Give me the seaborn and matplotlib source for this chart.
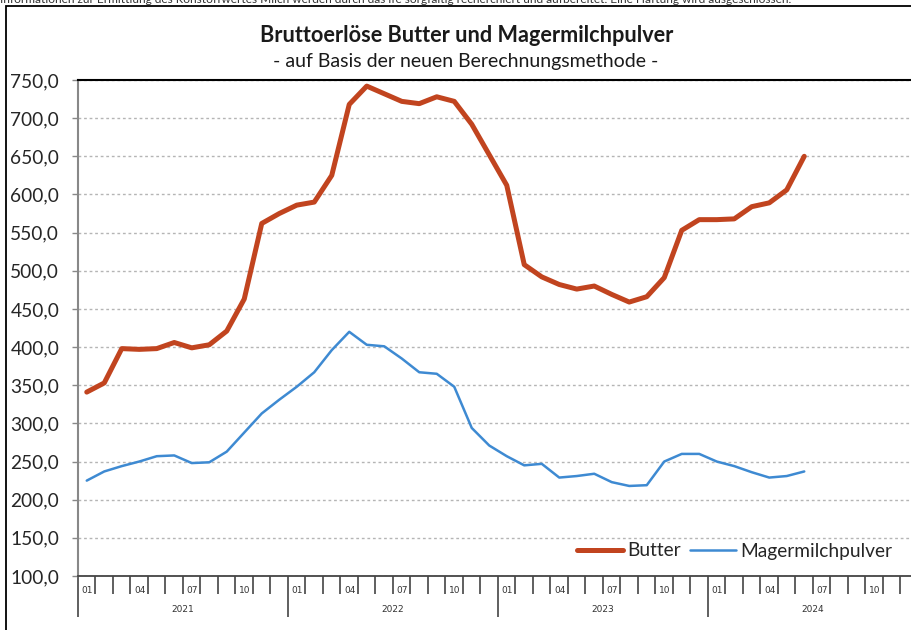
import numpy as np
import pandas as pd
import matplotlib
matplotlib.use("Agg")
import matplotlib.pyplot as plt
from matplotlib.patches import Rectangle
import seaborn as sns

# Monatswerte Jan 2021 - Jun 2024
years = ["2021", "2022", "2023", "2024"]
month_labels = ["01", "04", "07", "10"]
butter = [341, 353, 398, 397, 398, 406, 399, 403, 421, 463, 562, 575,
          586, 590, 625, 718, 742, 732, 722, 719, 728, 722, 692, 652,
          612, 508, 492, 482, 476, 480, 469, 459, 466, 491, 553, 567,
          567, 568, 584, 589, 606, 650]
mmp = [225, 237, 244, 250, 257, 258, 248, 249, 263, 288, 313, 331,
       348, 367, 396, 420, 403, 401, 385, 367, 365, 348, 294, 271,
       257, 245, 247, 229, 231, 234, 223, 218, 219, 250, 260, 260,
       250, 244, 236, 229, 231, 237]
y_ticks = list(range(100, 751, 50))

sns.set_style("white")
plt.rcParams['font.family'] = ['Lato', 'DejaVu Sans']

df = pd.DataFrame({"monat": np.arange(len(butter)), "Butter": butter,
                   "Magermilchpulver": mmp})

W, H = 912, 630
fig = plt.figure(figsize=(W / 100, H / 100), dpi=100)
ax = fig.add_axes([78 / W, 1 - 576 / H, 840 / W, 496 / H])

sns.lineplot(data=df, x="monat", y="Butter", ax=ax, color="#c1441f",
             linewidth=3.6, label="Butter")
sns.lineplot(data=df, x="monat", y="Magermilchpulver", ax=ax, color="#3e8ad2",
             linewidth=1.8, label="Magermilchpulver")

n_months = 12 * len(years)
ax.set_xlim(-0.5, n_months - 0.5)
ax.set_ylim(100, 750)
ax.set_xlabel("")
ax.set_ylabel("")

# y-Achse
ax.set_yticks(y_ticks)
ax.set_yticklabels([f"{v:.1f}".replace(".", ",") for v in y_ticks], fontsize=13.8)
ax.tick_params(axis="y", length=4.5, width=1, color="#888888", pad=9, left=True)
ax.yaxis.grid(True, linestyle=(0, (2, 2)), color="#b5b5b5", linewidth=1)
ax.set_axisbelow(True)

# x-Achse: Monats- und Jahresgrenzen
ax.set_xticks([12 * k - 0.5 for k in range(len(years) + 1)])
ax.set_xticks([m - 0.5 for m in range(n_months + 1)], minor=True)
ax.set_xticklabels([])
ax.tick_params(axis="x", which="major", length=29.5, width=1.2, color="#444444", bottom=True)
ax.tick_params(axis="x", which="minor", length=13, width=1.2, color="#444444", bottom=True)

trans = ax.get_xaxis_transform()
for m in range(n_months):
    if m % 3 == 0:
        ax.text(m - 0.5 + 0.22, -0.029, month_labels[(m % 12) // 3], transform=trans,
                fontsize=6.5, family="DejaVu Sans", color="#333333", va="center", ha="left")
for k, yr in enumerate(years):
    ax.text(12 * k + 5.5, -0.067, yr, transform=trans, fontsize=6.5,
            family="DejaVu Sans", color="#333333", va="center", ha="center")

ax.spines["left"].set_color("#888888")
ax.spines["left"].set_linewidth(1.5)
ax.spines["bottom"].set_color("#444444")
ax.spines["bottom"].set_linewidth(1.3)
ax.spines["top"].set_color("black")
ax.spines["top"].set_linewidth(1.5)
ax.spines["right"].set_visible(False)

ax.legend(loc="center right", bbox_to_anchor=(910 / W, 1 - 551 / H),
          bbox_transform=fig.transFigure, ncol=2, frameon=False, fontsize=13.8,
          handlelength=2.4, handletextpad=0.25, columnspacing=0.45)

fig.text(467 / W, 1 - 35 / H, "Bruttoerlöse Butter und Magermilchpulver",
         ha="center", va="center", fontsize=15.6, fontweight="bold", color="#1a1a1a")
fig.text(466 / W, 1 - 62 / H, "- auf Basis der neuen Berechnungsmethode -",
         ha="center", va="center", fontsize=14, color="#1a1a1a")
fig.text(0, 1 - 3 / H, "Informationen zur Ermittlung des Rohstoffwertes Milch werden durch das ife "
         "sorgfältig recherchiert und aufbereitet. Eine Haftung wird ausgeschlossen.",
         ha="left", va="baseline", fontsize=8.6, color="#333333")

fig.patches.append(Rectangle((6 / W, -0.1), 1.2, 1.1 - 6 / H, transform=fig.transFigure,
                             fill=False, edgecolor="black", linewidth=1.3))

fig.savefig("out.png", dpi=100)
